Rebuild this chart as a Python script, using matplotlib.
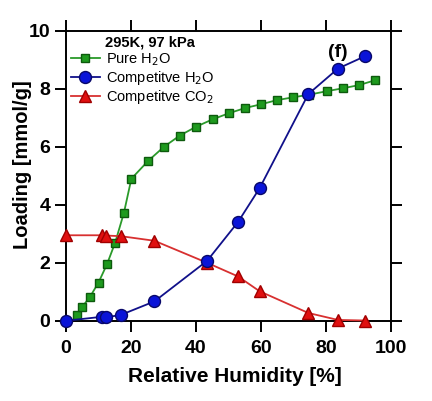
import matplotlib
matplotlib.use("Agg")
import matplotlib.pyplot as plt

plt.rcParams['font.family'] = ['Liberation Sans', 'DejaVu Sans']

# Pure H2O isotherm
pure_rh = [3.4, 5.1, 7.5, 10.1, 12.7, 15.2, 17.9, 20.2, 25.4, 30.2, 35.1, 40.2,
           45.2, 50.2, 55.2, 60.1, 64.9, 70.0, 74.9, 80.3, 85.2, 90.2, 95.2]
pure_h2o = [0.20, 0.48, 0.83, 1.32, 1.95, 2.69, 3.72, 4.90, 5.52, 6.00, 6.39, 6.70,
            6.95, 7.16, 7.34, 7.47, 7.61, 7.71, 7.80, 7.92, 8.02, 8.13, 8.30]

# competitive runs
comp_rh = [0.0, 11.3, 12.3, 16.9, 27.3, 43.5, 53.0, 59.6, 74.6, 83.7, 91.9]
comp_h2o = [0.0, 0.14, 0.12, 0.20, 0.67, 2.07, 3.41, 4.57, 7.82, 8.70, 9.12]
comp_co2 = [2.95, 2.95, 2.94, 2.92, 2.76, 2.00, 1.53, 1.02, 0.27, 0.03, 0.01]

fig = plt.figure(figsize=(4.32, 4.01), dpi=100)
ax = fig.add_axes([0.152, 0.20, 0.753, 0.723])

ax.plot(pure_rh, pure_h2o, '-s', color='#2a9a2a', mfc='#1e9a1e', mec='#0d5a0d',
        ms=6.2, lw=1.3, clip_on=False, zorder=3, label='Pure H$_2$O')
ax.plot(comp_rh, comp_h2o, '-o', color='#10108a', mfc='#0a14d8', mec='#08086a',
        ms=8.6, lw=1.3, clip_on=False, zorder=4, label='Competitve H$_2$O')
ax.plot(comp_rh, comp_co2, '-^', color='#d83030', mfc='#e01010', mec='#a00000',
        ms=8.6, lw=1.3, clip_on=False, zorder=3, label='Competitve CO$_2$')

ax.set_xlim(0, 100)
ax.set_ylim(0, 10)
ax.set_xticks([0, 20, 40, 60, 80, 100])
ax.set_yticks([0, 2, 4, 6, 8, 10])
ax.tick_params(direction='out', length=8, width=1.4, labelsize=14,
               top=True, right=True, labeltop=False, labelright=False)
ax.tick_params(axis='x', pad=6)
ax.tick_params(axis='y', pad=3)
for lab in ax.get_xticklabels() + ax.get_yticklabels():
    lab.set_fontweight('bold')
for sp in ax.spines.values():
    sp.set_linewidth(1.4)

ax.set_xlabel('Relative Humidity [%]', fontsize=15, fontweight='bold')
ax.set_ylabel('Loading [mmol/g]', fontsize=14.5, fontweight='bold')
ax.xaxis.set_label_coords(0.52, -0.16)
ax.yaxis.set_label_coords(-0.105, 0.54)

ax.text(83.7, 9.25, '(f)', fontsize=14, fontweight='bold', ha='center', va='center')

leg = ax.legend(loc='upper left', frameon=False, fontsize=10.5, title='295K, 97 kPa',
                handlelength=2.0, handletextpad=0.45, labelspacing=0.08,
                borderaxespad=0.1, borderpad=0.25)
leg.get_title().set_fontweight('bold')
leg.get_title().set_fontsize(10.6)
leg._legend_box.align = 'left'
leg.get_title().set_position((34, 0))

fig.savefig('out.png', dpi=100, facecolor='white')
